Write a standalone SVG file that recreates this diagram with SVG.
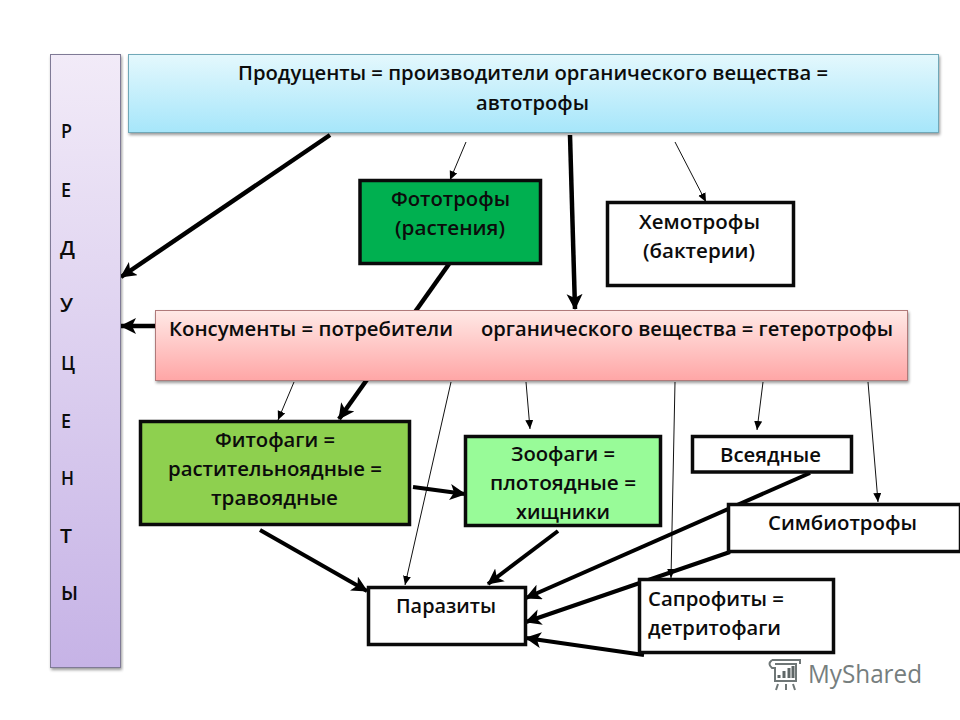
<svg xmlns="http://www.w3.org/2000/svg" width="960" height="720" viewBox="0 0 960 720">
<style>
text{font-family:"Open Sans","Noto Sans","DejaVu Sans",sans-serif;font-size:20px;font-weight:600;fill:#0c0c0c}
.box{stroke:#0a0a0a;stroke-width:3.5}
.soft{stroke-width:1;filter:url(#sh)}
.thick{stroke:#000;stroke-width:4.5;fill:none;marker-end:url(#big)}
.mid{stroke:#000;stroke-width:4;fill:none;marker-end:url(#big)}
.thin{stroke:#111;stroke-width:1;fill:none;marker-end:url(#small)}
</style>
<defs>
<linearGradient id="g1" x1="0" y1="0" x2="0" y2="1"><stop offset="0" stop-color="#e4f8fd"/><stop offset="1" stop-color="#a6e6fa"/></linearGradient>
<linearGradient id="g2" x1="0" y1="0" x2="0" y2="1"><stop offset="0" stop-color="#ffe9e6"/><stop offset="1" stop-color="#ffa6a6"/></linearGradient>
<linearGradient id="g3" x1="0" y1="0" x2="0" y2="1"><stop offset="0" stop-color="#f2ebf8"/><stop offset="1" stop-color="#c6b3e6"/></linearGradient>
<filter id="sh" x="-5%" y="-5%" width="110%" height="115%"><feDropShadow dx="1" dy="2" stdDeviation="1.5" flood-color="#000" flood-opacity="0.4"/></filter>
<marker id="big" markerUnits="userSpaceOnUse" markerWidth="18" markerHeight="18" refX="15" refY="8" orient="auto"><path d="M0 0L16 8L0 16L4 8Z" fill="#000"/></marker>
<marker id="small" markerUnits="userSpaceOnUse" markerWidth="11" markerHeight="10" refX="9" refY="4" orient="auto"><path d="M0 0L9 4L0 8Z" fill="#000"/></marker>
</defs>
<rect width="960" height="720" fill="#fff"/>
<g id="connectors">
<line class="thick" x1="330" y1="135" x2="121" y2="277"/>
<line class="thick" x1="155" y1="326" x2="121" y2="326"/>
<line class="thick" x1="570" y1="135" x2="575" y2="309"/>
<line class="thick" x1="449" y1="264" x2="339" y2="419"/>
<line class="thin" x1="466" y1="142" x2="450" y2="180"/>
<line class="thin" x1="675" y1="142" x2="706" y2="202"/>
<line class="thin" x1="294" y1="382" x2="278" y2="420"/>
<line class="thin" x1="451" y1="382" x2="405" y2="585"/>
<line class="thin" x1="526" y1="382" x2="530" y2="429"/>
<line class="thin" x1="675" y1="382" x2="671" y2="578"/>
<line class="thin" x1="763" y1="382" x2="757" y2="430"/>
<line class="thin" x1="868" y1="382" x2="878" y2="502"/>
<line class="mid" x1="413" y1="487" x2="465" y2="494"/>
<line class="mid" x1="260" y1="530" x2="367" y2="591"/>
<line class="mid" x1="558" y1="531" x2="488" y2="584"/>
<line class="mid" x1="810" y1="473" x2="526" y2="598"/>
<line class="mid" x1="730" y1="552" x2="526" y2="622"/>
<line class="mid" x1="644" y1="655" x2="526" y2="638"/>
</g>
<g id="reducers"><rect class="soft" x="50.5" y="54.5" width="70" height="613" fill="url(#g3)" stroke="#7f7a96"/>
<text x="61" y="138" textLength="11" lengthAdjust="spacingAndGlyphs">Р</text>
<text x="61" y="197" textLength="10" lengthAdjust="spacingAndGlyphs">Е</text>
<text x="60" y="255" textLength="15" lengthAdjust="spacingAndGlyphs">Д</text>
<text x="60" y="312" textLength="13" lengthAdjust="spacingAndGlyphs">У</text>
<text x="61" y="370" textLength="14" lengthAdjust="spacingAndGlyphs">Ц</text>
<text x="61" y="428" textLength="10" lengthAdjust="spacingAndGlyphs">Е</text>
<text x="61" y="485" textLength="13" lengthAdjust="spacingAndGlyphs">Н</text>
<text x="60" y="543" textLength="12" lengthAdjust="spacingAndGlyphs">Т</text>
<text x="61" y="600" textLength="17" lengthAdjust="spacingAndGlyphs">Ы</text>
</g>
<g id="producers"><rect class="soft" x="128.5" y="54.5" width="810" height="78" fill="url(#g1)" stroke="#6fa8b8"/>
<text x="238" y="80" textLength="590" lengthAdjust="spacingAndGlyphs">Продуценты = производители органического вещества =</text>
<text x="476" y="110" textLength="113" lengthAdjust="spacingAndGlyphs">автотрофы</text>
</g>
<g id="consumers"><rect class="soft" x="155.5" y="310.5" width="752" height="70" fill="url(#g2)" stroke="#b07a7a"/>
<text x="169" y="336" textLength="284" lengthAdjust="spacingAndGlyphs">Консументы = потребители</text>
<text x="481" y="336" textLength="412" lengthAdjust="spacingAndGlyphs">органического вещества = гетеротрофы</text>
</g>
<g id="phototrophs"><rect class="box" x="360" y="180.5" width="180.5" height="83" fill="#00b050"/>
<text x="391" y="206" textLength="119" lengthAdjust="spacingAndGlyphs">Фототрофы</text>
<text x="395" y="235" textLength="110" lengthAdjust="spacingAndGlyphs">(растения)</text>
</g>
<g id="chemotrophs"><rect class="box" x="607.5" y="202.5" width="186" height="83" fill="#fff"/>
<text x="639" y="229" textLength="121" lengthAdjust="spacingAndGlyphs">Хемотрофы</text>
<text x="643" y="258" textLength="112" lengthAdjust="spacingAndGlyphs">(бактерии)</text>
</g>
<g id="phytophages"><rect class="box" x="140.5" y="421.5" width="269" height="103" fill="#8ed04f"/>
<text x="215" y="447" textLength="120" lengthAdjust="spacingAndGlyphs">Фитофаги =</text>
<text x="168" y="476" textLength="214" lengthAdjust="spacingAndGlyphs">растительноядные =</text>
<text x="211" y="505" textLength="127" lengthAdjust="spacingAndGlyphs">травоядные</text>
</g>
<g id="zoophages"><rect class="box" x="465.5" y="436.5" width="195" height="89" fill="#98fb98"/>
<text x="511" y="461" textLength="104" lengthAdjust="spacingAndGlyphs">Зоофаги =</text>
<text x="490" y="490" textLength="146" lengthAdjust="spacingAndGlyphs">плотоядные =</text>
<text x="516" y="519" textLength="94" lengthAdjust="spacingAndGlyphs">хищники</text>
</g>
<g id="omnivores"><rect class="box" x="692.5" y="436.5" width="159" height="35.5" fill="#fff"/>
<text x="720" y="462" textLength="101" lengthAdjust="spacingAndGlyphs">Всеядные</text>
</g>
<g id="symbiotrophs"><rect class="box" x="728.5" y="504.5" width="232" height="47" fill="#fff"/>
<text x="768" y="530" textLength="149" lengthAdjust="spacingAndGlyphs">Симбиотрофы</text>
</g>
<g id="parasites"><rect class="box" x="368.5" y="587.5" width="157" height="57" fill="#fff"/>
<text x="396" y="613" textLength="100" lengthAdjust="spacingAndGlyphs">Паразиты</text>
</g>
<g id="saprophytes"><rect class="box" x="639.5" y="579.5" width="194" height="73" fill="#fff"/>
<text x="648" y="606" textLength="136" lengthAdjust="spacingAndGlyphs">Сапрофиты =</text>
<text x="648" y="635" textLength="133" lengthAdjust="spacingAndGlyphs">детритофаги</text>
</g>
<g id="watermark">
<path d="M772 660H800V664M772 660Q767 664 772 668H775V681H796V664H775M778 684L776 690M786 684V690M793 684L795 690" fill="none" stroke="#6f7777" stroke-width="2"/>
<path d="M779 678V675M784 678V671M789 678V668M793 678V666" stroke="#5f6767" stroke-width="3"/>
<text x="808" y="683" textLength="114" lengthAdjust="spacingAndGlyphs" style="font-size:25px;font-weight:500;fill:#767e7e">MyShared</text>
</g>
</svg>
